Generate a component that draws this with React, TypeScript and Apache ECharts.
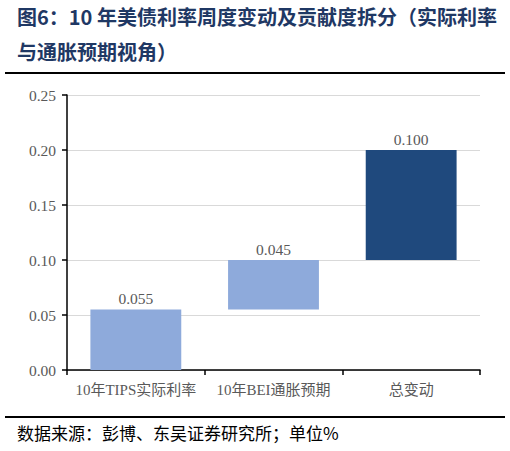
import React, { useEffect, useRef } from "react";
import * as echarts from "echarts";

const categories = ["10年TIPS实际利率", "10年BEI通胀预期", "总变动"];
const baseValues = [0, 0.055, 0.1];
const changeValues = [0.055, 0.045, 0.1];
const barColors = ["#8eaadb", "#8eaadb", "#1f497d"];
const yTicks = [0, 0.05, 0.1, 0.15, 0.2, 0.25];

const titleLine1 = "图6：10 年美债利率周度变动及贡献度拆分（实际利率";
const titleLine2 = "与通胀预期视角）";
const sourceText = "数据来源：彭博、东吴证券研究所；单位%";

export default function App() {
  const ref = useRef<HTMLDivElement>(null);
  useEffect(() => {
    if (!ref.current) return;
    const chart = echarts.init(ref.current, undefined, { renderer: "svg" });
    const serif = "'Liberation Serif', 'Noto Sans CJK SC', serif";
    chart.setOption({
      animation: false,
      backgroundColor: "#ffffff",
      grid: { left: 67, right: 30, top: 95, bottom: 81, containLabel: false },
      xAxis: {
        type: "category",
        data: categories,
        axisLine: { lineStyle: { color: "#000000", width: 1.5 } },
        axisTick: { show: true, alignWithLabel: false, length: 5, lineStyle: { color: "#000000", width: 1.5 } },
        axisLabel: { color: "#595959", fontSize: 15, fontFamily: serif, margin: 12, interval: 0 },
      },
      yAxis: {
        type: "value",
        min: 0,
        max: yTicks[yTicks.length - 1],
        interval: 0.05,
        axisLine: { show: true, lineStyle: { color: "#000000", width: 1.5 } },
        axisTick: { show: true, length: 5, lineStyle: { color: "#000000", width: 1.5 } },
        axisLabel: {
          color: "#595959",
          fontSize: 15.5,
          fontFamily: serif,
          margin: 11,
          formatter: (v: number) => v.toFixed(2),
        },
        splitLine: { show: true, lineStyle: { color: "#d9d9d9", width: 1 } },
      },
      series: [
        {
          type: "bar",
          stack: "w",
          data: baseValues,
          itemStyle: { color: "transparent" },
          barWidth: "66%",
          silent: true,
        },
        {
          type: "bar",
          stack: "w",
          data: changeValues.map((v, i) => ({ value: v, itemStyle: { color: barColors[i] } })),
          barWidth: "66%",
          label: {
            show: true,
            position: "top",
            color: "#595959",
            fontSize: 15.5,
            fontFamily: serif,
            distance: 3,
            formatter: (p: any) => Number(p.value).toFixed(3),
          },
        },
      ],
      graphic: [
        {
          type: "text",
          left: 17,
          top: 6,
          style: {
            text: titleLine1,
            fill: "#1f3864",
            font: "bold 20px 'Noto Sans CJK SC', sans-serif",
          },
        },
        {
          type: "text",
          left: 17,
          top: 41,
          style: {
            text: titleLine2,
            fill: "#1f3864",
            font: "bold 20px 'Noto Sans CJK SC', sans-serif",
          },
        },
        {
          type: "line",
          shape: { x1: 5, y1: 73, x2: 505, y2: 73 },
          style: { stroke: "#000000", lineWidth: 2 },
        },
        {
          type: "line",
          shape: { x1: 5, y1: 417, x2: 505, y2: 417 },
          style: { stroke: "#000000", lineWidth: 2 },
        },
        {
          type: "text",
          left: 17,
          top: 424,
          style: {
            text: sourceText,
            fill: "#000000",
            font: "17px 'Noto Sans CJK SC', sans-serif",
          },
        },
      ],
    });
    return () => chart.dispose();
  }, []);
  return <div ref={ref} style={{ width: 510, height: 451, position: "fixed", left: 0, top: 0 }} />;
}
